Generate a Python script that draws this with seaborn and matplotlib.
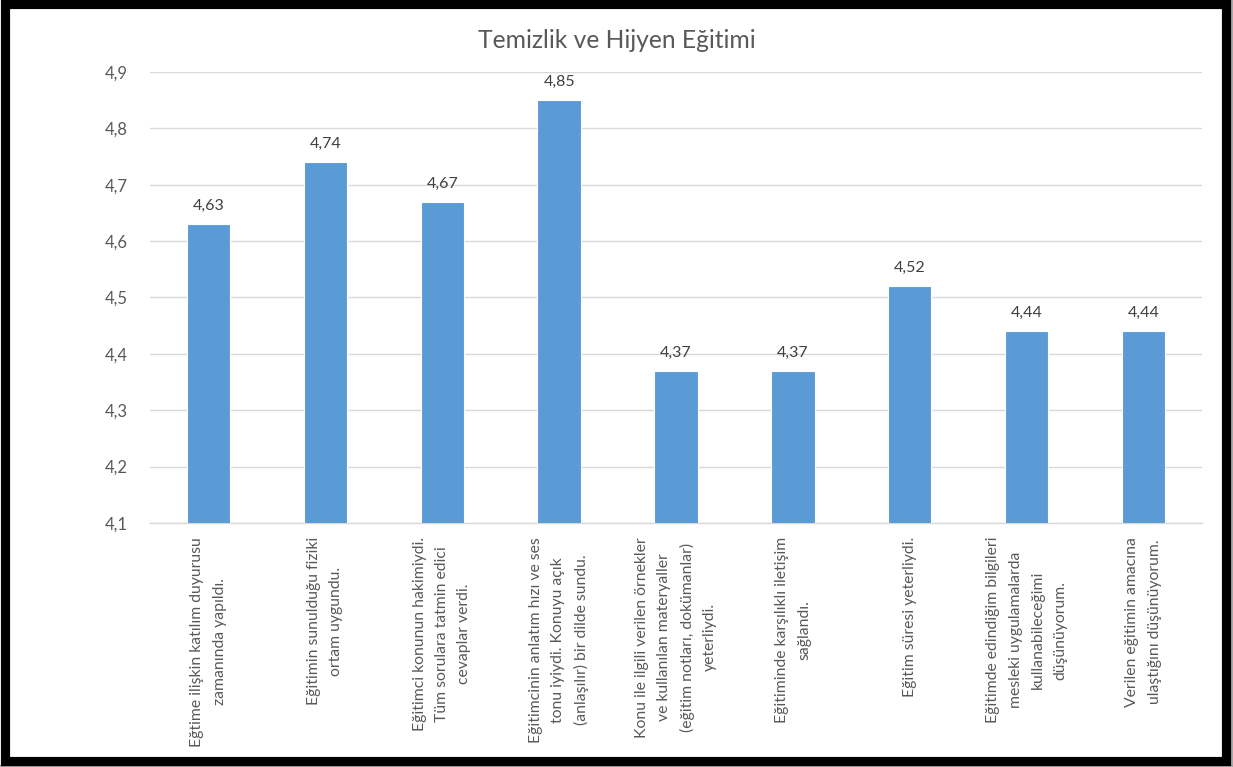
import matplotlib
matplotlib.use("Agg")
import matplotlib.pyplot as plt
import seaborn as sns
import numpy as np
import pandas as pd
from matplotlib.patches import Rectangle

title = "Temizlik ve Hijyen Eğitimi"
categories = [
    "Eğtime ilişkin katılım duyurusu\nzamanında yapıldı.",
    "Eğitimin sunulduğu fiziki\nortam uygundu.",
    "Eğitimci konunun hakimiydi.\nTüm sorulara tatmin edici\ncevaplar verdi.",
    "Eğitimcinin anlatım hızı ve ses\ntonu iyiydi. Konuyu açık\n(anlaşılır) bir dilde sundu.",
    "Konu ile ilgili verilen örnekler\nve kullanılan materyaller\n(eğitim notları, dokümanlar)\nyeterliydi.",
    "Eğitiminde karşılıklı iletişim\nsağlandı.",
    "Eğitim süresi yeterliydi.",
    "Eğitimde edindiğim bilgileri\nmesleki uygulamalarda\nkullanabileceğimi\ndüşünüyorum.",
    "Verilen eğitimin amacına\nulaştığını düşünüyorum.",
]
values = [4.63, 4.74, 4.67, 4.85, 4.37, 4.37, 4.52, 4.44, 4.44]
y_ticks = [4.1, 4.2, 4.3, 4.4, 4.5, 4.6, 4.7, 4.8, 4.9]

sns.set_theme(style="white")
plt.rcParams['font.family'] = ['Lato', 'DejaVu Sans']

df = pd.DataFrame({"cat": categories, "val": values})

fig = plt.figure(figsize=(12.33, 7.67), dpi=100)
ax = fig.add_axes([150/1233, 1-523/767, (1202-150)/1233, (523-72)/767])

sns.barplot(data=df, x="cat", y="val", color="#5B9BD5", saturation=1,
            width=0.37, edgecolor="white", linewidth=0.8, ax=ax, zorder=3)

ax.set_ylim(4.1, 4.9)
ax.set_xlim(-0.5, len(categories)-0.5)
ax.set_yticks(y_ticks)
ax.set_yticklabels([f"{v:.1f}".replace(".", ",") for v in y_ticks],
                   color="#595959", fontsize=12)
ax.yaxis.grid(True, color="#D9D9D9", linewidth=1, zorder=0)
ax.set_axisbelow(True)
for s in ["left", "right", "top"]:
    ax.spines[s].set_visible(False)
ax.spines["bottom"].set_color("#D9D9D9")
ax.spines["bottom"].set_linewidth(1)
ax.tick_params(axis="y", length=0, pad=16)

ax.set_xticks(range(len(categories)))
ax.set_xticklabels(categories, rotation=90, ha="center", va="top",
                   multialignment="center", color="#595959", fontsize=11.3,
                   linespacing=1.75)
ax.tick_params(axis="x", which="major", length=0, pad=10)
ax.set_xticks(np.arange(-0.5, len(categories), 1), minor=True)
ax.tick_params(axis="x", which="minor", length=5, color="#D9D9D9", width=1)
ax.set_xlabel("")
ax.set_ylabel("")

for i, v in enumerate(values):
    ax.annotate(f"{v:.2f}".replace(".", ","), (i, v), xytext=(0, 8),
                textcoords="offset points", ha="center", va="bottom",
                fontsize=11.5, color="#404040")

fig.text(617/1233, 1-40/767, title, ha="center", va="center", fontsize=17.7,
         color="#595959")

# outer frame
fig.patches.append(Rectangle((1230/1233, 0), 3/1233, 1, transform=fig.transFigure,
                             facecolor="#A6A6A6", edgecolor="none", zorder=0))
fig.patches.append(Rectangle((0, 0), 1, 2/767, transform=fig.transFigure,
                             facecolor="#A6A6A6", edgecolor="none", zorder=0))
fig.patches.append(Rectangle((5/1233, 1-761/767), (1225.5-5)/1233, (761-3.5)/767,
                             transform=fig.transFigure, facecolor="none",
                             edgecolor="black", linewidth=6.6, zorder=10))

fig.savefig("out.png", dpi=100)
